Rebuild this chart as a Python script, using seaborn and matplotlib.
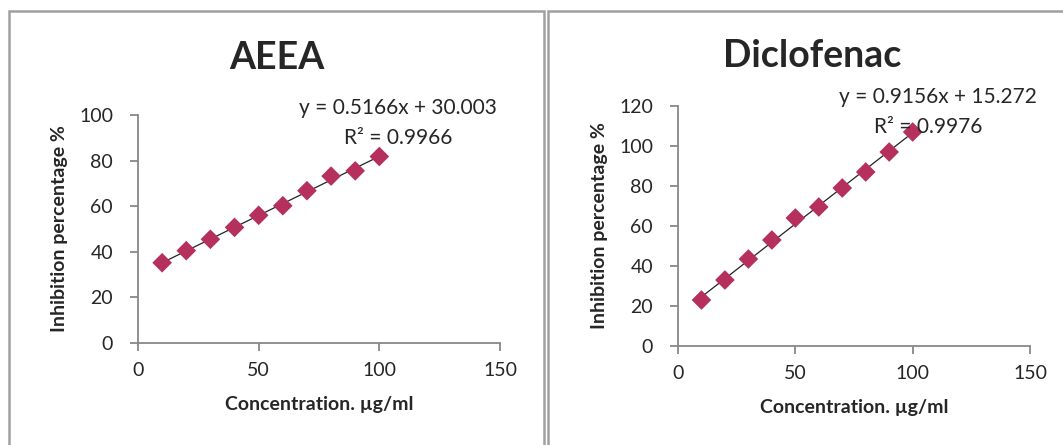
import numpy as np
import pandas as pd
import matplotlib
matplotlib.use("Agg")
import matplotlib.pyplot as plt
from matplotlib.patches import Rectangle
import seaborn as sns

# data
conc = [10, 20, 30, 40, 50, 60, 70, 80, 90, 100]
aeea = [35.2, 40.5, 45.5, 50.7, 56.0, 60.2, 66.8, 73.2, 75.5, 81.8]
diclofenac = [23.0, 33.0, 43.5, 53.0, 64.0, 69.5, 79.0, 87.0, 97.0, 107.0]
titles = ["AEEA", "Diclofenac"]
equations = ["y = 0.5166x + 30.003", "y = 0.9156x + 15.272"]
r2_labels = ["R² = 0.9966", "R² = 0.9976"]
y_ticks = [[0, 20, 40, 60, 80, 100], [0, 20, 40, 60, 80, 100, 120]]
x_ticks = [0, 50, 100, 150]

sns.set_style("white")
plt.rcParams["font.family"] = ["Lato", "DejaVu Sans"]

W, H = 1063, 445
fig = plt.figure(figsize=(W / 100, H / 100), dpi=100)

def px(x0, y0, x1, y1):
    # pixel box -> figure fraction [left, bottom, width, height]
    return [x0 / W, 1 - y1 / H, (x1 - x0) / W, (y1 - y0) / H]

# chart frames
for x0, x1 in [(9, 544), (548, 1070)]:
    fig.patches.append(Rectangle((x0 / W, -0.05), (x1 - x0) / W, 1 - 11 / H + 0.05,
                                 transform=fig.transFigure, fill=False,
                                 edgecolor="#a0a0a0", linewidth=1.8))

boxes = [px(138, 115, 500, 343), px(678, 106, 1030, 346)]
series = [aeea, diclofenac]
title_pos = [(277, 58), (812, 56)]
eq_pos = [(398, 108), (938, 97)]
r2_pos = [(398, 138), (928, 127)]
marker_col = "#b5305c"

for i in range(2):
    ax = fig.add_axes(boxes[i])
    df = pd.DataFrame({"conc": conc, "inh": series[i]})
    sns.regplot(data=df, x="conc", y="inh", ax=ax, scatter=False, ci=None,
                line_kws={"color": "#222222", "linewidth": 0.9})
    sns.scatterplot(data=df, x="conc", y="inh", ax=ax, marker="D", s=100,
                    color=marker_col, edgecolor="none", zorder=3)
    ax.set_xlim(0, 150)
    ax.set_ylim(0, y_ticks[i][-1])
    ax.set_xticks(x_ticks)
    ax.set_yticks(y_ticks[i])
    for s in ["top", "right"]:
        ax.spines[s].set_visible(False)
    for s in ["left", "bottom"]:
        ax.spines[s].set_color("#888888")
        ax.spines[s].set_linewidth(1.3)
    ax.tick_params(direction="out", length=6, width=1.3, color="#888888",
                   labelsize=14, left=True, bottom=True)
    ax.tick_params(axis="y", pad=12)
    ax.tick_params(axis="x", pad=8)
    ax.set_xlabel("Concentration. µg/ml", fontsize=14, fontweight="bold", labelpad=12)
    ax.set_ylabel("Inhibition percentage %", fontsize=14, fontweight="bold", labelpad=8)
    ax.patch.set_alpha(0)

    fig.text(title_pos[i][0] / W, 1 - title_pos[i][1] / H, titles[i],
             ha="center", va="center", fontsize=27, fontweight="bold")
    fig.text(eq_pos[i][0] / W, 1 - eq_pos[i][1] / H, equations[i],
             ha="center", va="center", fontsize=15)
    fig.text(r2_pos[i][0] / W, 1 - r2_pos[i][1] / H, r2_labels[i],
             ha="center", va="center", fontsize=15)

fig.savefig("out.png", dpi=100)
